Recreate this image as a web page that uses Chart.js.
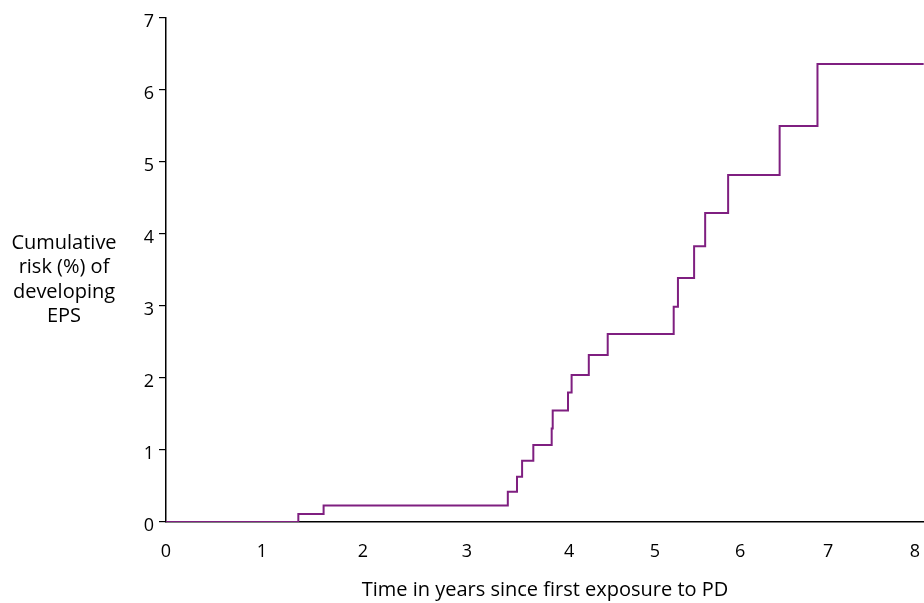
<!DOCTYPE html>
<html>
<head>
<meta charset="utf-8">
<script src="https://cdn.jsdelivr.net/npm/chart.js@4"></script>
<style>
  html, body { margin: 0; padding: 0; background: #fff; }
  #wrap { width: 924px; height: 603px; }
</style>
</head>
<body>
<div id="wrap"><canvas id="epsChart" width="924" height="603"></canvas></div>
<script>
// Số liệu: thời điểm nhảy bậc (năm) và nguy cơ tích lũy (%)
const stepYears = [0, 1.36, 1.61, 3.40, 3.49, 3.54, 3.65, 3.83, 3.84, 3.99, 4.03, 4.23, 4.45, 5.22, 5.27, 5.46, 5.59, 5.86, 6.45, 6.88, 8.10];
const riskPct   = [0, 0.11, 0.23, 0.42, 0.63, 0.85, 1.07, 1.30, 1.55, 1.80, 2.04, 2.32, 2.61, 2.99, 3.39, 3.83, 4.29, 4.82, 5.50, 6.36, 6.36];

const xTickValues = [0, 1, 2, 3, 4, 5, 6, 7, 8];
const yTickValues = [0, 1, 2, 3, 4, 5, 6, 7];
const xTitle = 'Time in years since first exposure to PD';
const yTitleLines = ['Cumulative', 'risk (%) of', 'developing', 'EPS'];

// Trục x của hình gốc không đều: vị trí từng mốc năm theo tỉ lệ chiều dài trục
const xTickSpots = [0, 0.1266, 0.2599, 0.3971, 0.5317, 0.6451, 0.7573, 0.8734, 0.9881];

const FONT = "'Open Sans', sans-serif";
const LINE_COLOR = '#7f1f80';

class StretchedScale extends Chart.LinearScale {
    getPixelForValue(value) {
        return this.getPixelForDecimal(valueToSpot(value));
    }
    getValueForPixel(pixel) {
        return spotToValue(this.getDecimalForPixel(pixel));
    }
}
StretchedScale.id = 'stretched';
StretchedScale.defaults = Chart.LinearScale.defaults;
Chart.register(StretchedScale);

function valueToSpot(v) {
    const n = xTickValues.length;
    let i = 0;
    while (i < n - 2 && v > xTickValues[i + 1]) i++;
    const t = (v - xTickValues[i]) / (xTickValues[i + 1] - xTickValues[i]);
    return xTickSpots[i] + t * (xTickSpots[i + 1] - xTickSpots[i]);
}

function spotToValue(s) {
    const n = xTickSpots.length;
    let i = 0;
    while (i < n - 2 && s > xTickSpots[i + 1]) i++;
    const t = (s - xTickSpots[i]) / (xTickSpots[i + 1] - xTickSpots[i]);
    return xTickValues[i] + t * (xTickValues[i + 1] - xTickValues[i]);
}

// Tiêu đề trục y nằm ngang, nhiều dòng
const yTitlePlugin = {
    id: 'yTitle',
    afterDraw(chart) {
        const c = chart.ctx;
        const area = chart.chartArea;
        c.save();
        c.font = '20px ' + FONT;
        c.fillStyle = '#000';
        c.textAlign = 'center';
        c.textBaseline = 'middle';
        yTitleLines.forEach((line, i) => {
            c.fillText(line, area.left - 102, 243 + i * 24.5);
        });
        c.restore();
    }
};

const ctx = document.getElementById('epsChart').getContext('2d');
const chart = new Chart(ctx, {
    type: 'line',
    data: {
        datasets: [{
            label: 'Cumulative risk',
            data: stepYears.map((x, i) => ({ x: x, y: riskPct[i] })),
            borderColor: LINE_COLOR,
            borderWidth: 2,
            stepped: 'before',
            pointRadius: 0,
            fill: false
        }]
    },
    options: {
        responsive: false,
        animation: false,
        layout: { padding: { left: 0, right: 0, top: 18, bottom: 0 } },
        plugins: {
            legend: { display: false },
            tooltip: { enabled: false }
        },
        scales: {
            x: {
                type: 'stretched',
                min: 0,
                max: 8.1,
                afterBuildTicks: (scale) => {
                    scale.ticks = xTickValues.map(v => ({ value: v }));
                },
                afterFit: (scale) => {
                    scale.height = 81;
                    scale.paddingLeft = 0;
                    scale.paddingRight = 0;
                },
                grid: { display: false, drawTicks: false },
                border: { display: true, color: '#000', width: 1.5 },
                ticks: {
                    color: '#000',
                    font: { family: FONT, size: 18 },
                    padding: 19,
                    maxRotation: 0,
                    autoSkip: false
                },
                title: {
                    display: true,
                    text: xTitle,
                    color: '#000',
                    font: { family: FONT, size: 20 },
                    padding: { top: 0, bottom: 1 }
                }
            },
            y: {
                min: 0,
                max: 7,
                afterBuildTicks: (scale) => {
                    scale.ticks = yTickValues.map(v => ({ value: v }));
                },
                afterFit: (scale) => {
                    scale.width = 166;
                    scale.paddingTop = 0;
                    scale.paddingBottom = 0;
                },
                grid: {
                    display: true,
                    drawOnChartArea: false,
                    drawTicks: true,
                    tickLength: 7,
                    color: '#000',
                    lineWidth: 1.2
                },
                border: { display: true, color: '#000', width: 1.5 },
                ticks: {
                    color: '#000',
                    font: { family: FONT, size: 18 },
                    padding: 5,
                    labelOffset: 4
                }
            }
        }
    },
    plugins: [yTitlePlugin]
});
</script>
</body>
</html>
